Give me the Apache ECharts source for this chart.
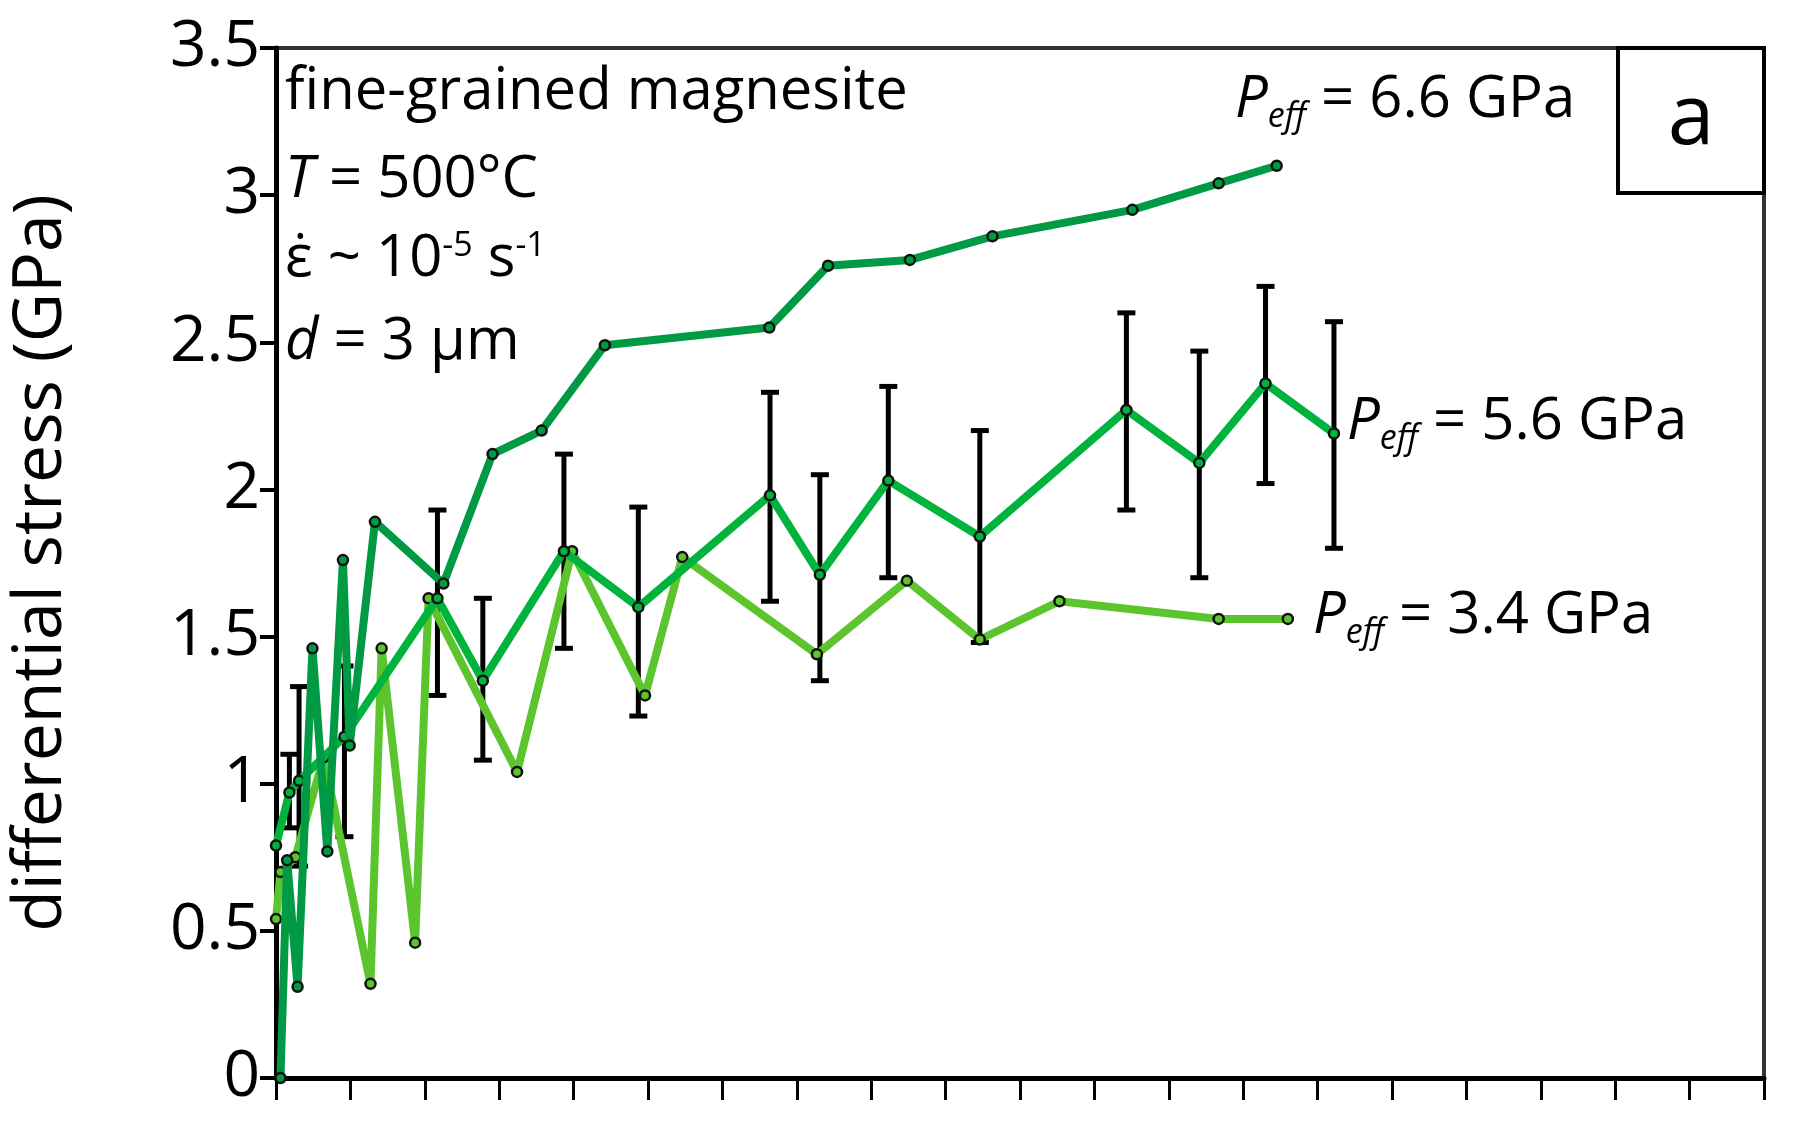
<!DOCTYPE html>
<html><head><meta charset="utf-8">
<script src="https://cdn.jsdelivr.net/npm/echarts@6/dist/echarts.min.js"></script>
<style>html,body{margin:0;background:#fff}#c{width:1793px;height:1124px}</style>
</head><body><div id="c"></div>
<script>
const dark66 = [[0.06,0],[0.15,0.74],[0.29,0.31],[0.49,1.46],[0.69,0.77],[0.90,1.76],[0.99,1.13],[1.33,1.89],[2.25,1.68],[2.91,2.12],[3.57,2.2],[4.42,2.49],[6.63,2.55],[7.42,2.76],[8.52,2.78],[9.63,2.86],[11.51,2.95],[12.67,3.04],[13.45,3.1]];
const mid56 = [[0,0.79],[0.18,0.97],[0.31,1.01],[0.92,1.16],[2.17,1.63],[2.78,1.35],[3.87,1.79],[4.87,1.6],[6.64,1.98],[7.31,1.71],[8.23,2.03],[9.46,1.84],[11.43,2.27],[12.41,2.09],[13.30,2.36],[14.22,2.19]];
const err56 = [[0.18,0.85,1.1],[0.31,0.72,1.33],[0.92,0.82,1.4],[2.17,1.3,1.93],[2.78,1.08,1.63],[3.87,1.46,2.12],[4.87,1.23,1.94],[6.64,1.62,2.33],[7.31,1.35,2.05],[8.23,1.7,2.35],[9.46,1.48,2.2],[11.43,1.93,2.6],[12.41,1.7,2.47],[13.30,2.02,2.69],[14.22,1.8,2.57]];
const light34 = [[0,0.54],[0.06,0.7],[0.26,0.75],[0.64,1.09],[1.27,0.32],[1.42,1.46],[1.87,0.46],[2.05,1.63],[3.24,1.04],[3.98,1.79],[4.96,1.3],[5.46,1.77],[7.27,1.44],[8.48,1.69],[9.46,1.49],[10.53,1.62],[12.67,1.56],[13.60,1.56]];
const yTicks = ['0','0.5','1','1.5','2','2.5','3','3.5'];

const chart = echarts.init(document.getElementById('c'));
const ff = 'Open Sans';
const rich = {i:{fontStyle:'italic',fontSize:58,fontFamily:ff},sub:{fontStyle:'italic',fontSize:34,verticalAlign:'bottom',padding:[34,0,0,0],fontFamily:ff},n:{fontSize:58,fontFamily:ff},sup:{fontSize:34,verticalAlign:'top',padding:[0,0,26,0],fontFamily:ff}};
function ser(name,data,color,z){return {type:'line',name:name,data:data,z:z,symbol:'circle',symbolSize:10,
  lineStyle:{color:color,width:8},itemStyle:{color:color,borderColor:'#111',borderWidth:2.5}};}
chart.setOption({
  animation:false,
  grid:{left:262,right:29,top:48,bottom:46,show:true,borderColor:'#333',borderWidth:4},
  xAxis:{type:'value',min:0,max:20,interval:1,axisLine:{lineStyle:{color:'#000',width:5}},
    axisTick:{inside:false,length:22,lineStyle:{color:'#000',width:3}},axisLabel:{show:false},splitLine:{show:false}},
  yAxis:{type:'value',min:0,max:3.5,interval:0.5,name:'differential stress (GPa)',nameLocation:'middle',nameGap:200,
    nameTextStyle:{fontSize:68,fontFamily:ff,color:'#000'},
    axisLine:{show:true,lineStyle:{color:'#000',width:5}},axisTick:{show:true,length:16,lineStyle:{color:'#000',width:4}},
    axisLabel:{fontSize:64,fontFamily:ff,color:'#000',margin:16,formatter:v=>yTicks[Math.round(v*2)]},splitLine:{show:false}},
  series:[
    {type:'custom',name:'err',z:1,renderItem:(p,api)=>{const x=api.value(0),lo=api.coord([x,api.value(1)]),hi=api.coord([x,api.value(2)]);
      const s={stroke:'#000',lineWidth:5};return {type:'group',children:[
      {type:'line',shape:{x1:lo[0],y1:lo[1],x2:hi[0],y2:hi[1]},style:s},
      {type:'line',shape:{x1:lo[0]-9,y1:lo[1],x2:lo[0]+9,y2:lo[1]},style:s},
      {type:'line',shape:{x1:hi[0]-9,y1:hi[1],x2:hi[0]+9,y2:hi[1]},style:s}]};},
      data:err56},
    ser('3.4',light34,'#5cc52d',2),
    ser('5.6',mid56,'#00b33c',3),
    ser('6.6',dark66,'#009944',4)
  ],
  graphic:[
    {type:'rect',shape:{x:1618,y:48,width:146,height:145},style:{fill:'#fff',stroke:'#000',lineWidth:4},z:10},
    {type:'text',x:1691,y:120,style:{text:'a',fontSize:84,fontFamily:ff,fill:'#000',align:'center',verticalAlign:'middle'},z:11},
    {type:'text',x:285,y:92,style:{text:'fine-grained magnesite',fontSize:58,fontFamily:ff,fill:'#000',verticalAlign:'middle'}},
    {type:'text',x:285,y:180,style:{text:'{i|T} = 500°C',rich:{i:{fontStyle:'italic',fontSize:58,fontFamily:ff}},fontSize:58,fontFamily:ff,fill:'#000',verticalAlign:'middle'}},
    {type:'text',x:285,y:259,style:{text:'ε̇ ~ 10{sup|-5} s{sup|-1}',rich:rich,fontSize:58,fontFamily:ff,fill:'#000',verticalAlign:'middle'}},
    {type:'text',x:285,y:342,style:{text:'{i|d} = 3 μm',rich:{i:{fontStyle:'italic',fontSize:58,fontFamily:ff}},fontSize:58,fontFamily:ff,fill:'#000',verticalAlign:'middle'}},
    {type:'text',x:1235,y:100,style:{text:'{i|P}{sub|eff}{n| = 6.6 GPa}',rich:rich,fill:'#000',verticalAlign:'middle'}},
    {type:'text',x:1347,y:422,style:{text:'{i|P}{sub|eff}{n| = 5.6 GPa}',rich:rich,fill:'#000',verticalAlign:'middle'}},
    {type:'text',x:1313,y:616,style:{text:'{i|P}{sub|eff}{n| = 3.4 GPa}',rich:rich,fill:'#000',verticalAlign:'middle'}}
  ]
});
</script></body></html>
